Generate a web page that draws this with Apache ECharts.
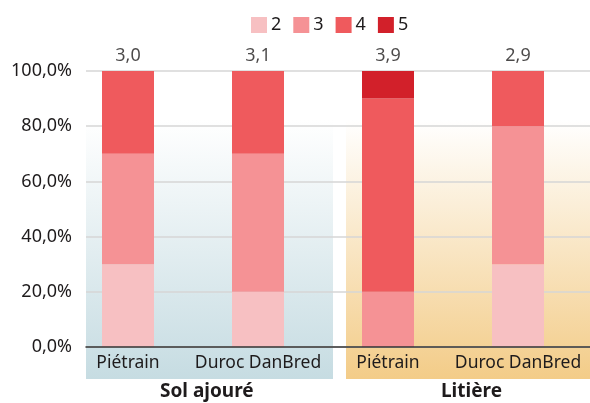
<!DOCTYPE html>
<html>
<head>
<meta charset="utf-8">
<script src="https://cdn.jsdelivr.net/npm/echarts@6/dist/echarts.min.js"></script>
<style>
  html, body { margin: 0; padding: 0; background: #fff; }
  #chart { width: 590px; height: 403px; }
</style>
</head>
<body>
<div id="chart"></div>
<script>
// categories (genetic line) and housing groups
const categories = ['Piétrain', 'Duroc DanBred', 'Piétrain', 'Duroc DanBred'];
const groups = ['Sol ajouré', 'Litière'];

// share of animals per score (%)
const score2 = [30, 20, 0, 30];
const score3 = [40, 50, 20, 50];
const score4 = [30, 30, 70, 20];
const score5 = [0, 0, 10, 0];

// mean score shown above each bar
const meanScore = ['3,0', '3,1', '3,9', '2,9'];

const yTicks = [0, 20, 40, 60, 80, 100];

const FONT = 'Noto Sans';
const TXT = '#1e1b1c';

const chart = echarts.init(document.getElementById('chart'), null, { renderer: 'canvas' });

function stackSeries(name, data, color) {
  return {
    name: name,
    type: 'bar',
    stack: 'total',
    xAxisIndex: 1,
    yAxisIndex: 1,
    barWidth: 52,
    itemStyle: { color: color },
    emphasis: { disabled: true },
    data: data.map(v => v === 0 ? null : v)
  };
}

const option = {
  animation: false,
  textStyle: { fontFamily: FONT },
  legend: {
    top: 11,
    left: 246,
    icon: 'rect',
    itemWidth: 16,
    itemHeight: 16,
    itemGap: 12,
    textStyle: { color: TXT, fontSize: 18, fontFamily: FONT, padding: [0, 0, 0, -1] },
    data: ['2', '3', '4', '5']
  },
  graphic: [
    {
      type: 'rect', z: -10, silent: true,
      shape: { x: 86, y: 120, width: 247, height: 259 },
      style: {
        fill: new echarts.graphic.LinearGradient(0, 0, 0, 1, [
          { offset: 0, color: '#ffffff' },
          { offset: 1, color: '#c6dce2' }
        ])
      }
    },
    {
      type: 'rect', z: -10, silent: true,
      shape: { x: 346, y: 120, width: 244, height: 259 },
      style: {
        fill: new echarts.graphic.LinearGradient(0, 0, 0, 1, [
          { offset: 0, color: '#ffffff' },
          { offset: 1, color: '#f3cc88' }
        ])
      }
    },
    {
      type: 'text', left: 160, top: 382,
      style: { text: groups[0], font: 'bold 19px "' + FONT + '"', fill: TXT }
    },
    {
      type: 'text', left: 441, top: 382,
      style: { text: groups[1], font: 'bold 19px "' + FONT + '"', fill: TXT }
    }
  ],
  grid: [
    { left: 86, right: 0, top: 71, bottom: 56 },
    { left: 63, right: 7, top: 71, bottom: 56 }
  ],
  xAxis: [
    {
      gridIndex: 0,
      type: 'category',
      data: categories,
      axisLine: { show: true, lineStyle: { color: '#333', width: 1.5 } },
      axisTick: { show: false },
      axisLabel: { show: false },
      splitLine: { show: false },
      z: 5
    },
    {
      gridIndex: 1,
      type: 'category',
      data: categories,
      axisLine: { show: false },
      axisTick: { show: false },
      axisLabel: { interval: 0, color: TXT, fontSize: 17.5, fontFamily: FONT, margin: 7 }
    }
  ],
  yAxis: [
    {
      gridIndex: 0,
      type: 'value',
      min: 0,
      max: 100,
      interval: 20,
      axisLine: { show: false },
      axisTick: { show: false },
      axisLabel: {
        color: TXT,
        fontSize: 18,
        fontFamily: FONT,
        margin: 14,
        formatter: v => yTicks.indexOf(v) >= 0 ? v.toFixed(1).replace('.', ',') + '%' : ''
      },
      splitLine: { show: true, lineStyle: { color: '#d6d6d6', width: 1.5 } }
    },
    {
      gridIndex: 1,
      type: 'value',
      min: 0,
      max: 100,
      show: false,
      splitLine: { show: false }
    }
  ],
  series: [
    stackSeries('2', score2, '#f7c0c2'),
    stackSeries('3', score3, '#f59295'),
    stackSeries('4', score4, '#ef5a5d'),
    stackSeries('5', score5, '#d2202a'),
    {
      name: 'moyenne',
      type: 'scatter',
      xAxisIndex: 1,
      yAxisIndex: 1,
      symbolSize: 0,
      silent: true,
      label: {
        show: true,
        position: 'top',
        distance: 6,
        color: TXT,
        fontSize: 18,
        fontFamily: FONT,
        formatter: p => meanScore[p.dataIndex]
      },
      data: categories.map((c, i) => [i, 100])
    }
  ]
};

chart.setOption(option);
</script>
</body>
</html>
